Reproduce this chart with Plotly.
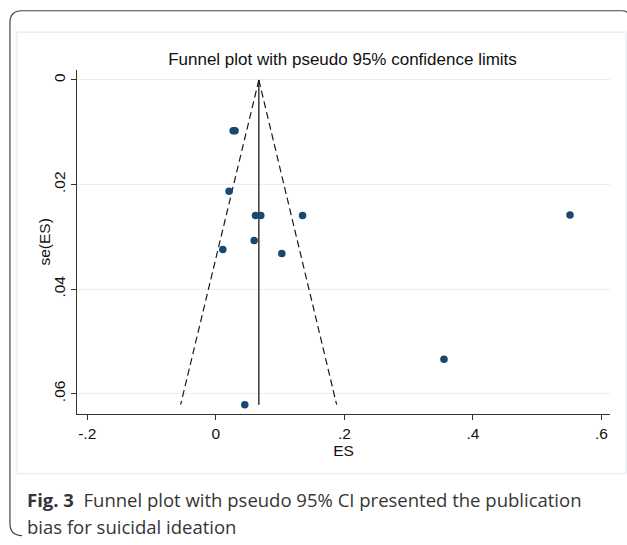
import plotly.graph_objects as go

# ---- data ----
es = [0.027, 0.030, 0.0207, 0.0618, 0.070, 0.135, 0.0597, 0.0109, 0.1027, 0.551, 0.355, 0.0451]
se_es = [0.0097, 0.0097, 0.0213, 0.0259, 0.0259, 0.0259, 0.0307, 0.0324, 0.0332, 0.0258, 0.0534, 0.0621]

pooled_x = [0.067, 0.067]
pooled_se = [0.0, 0.0621]
lower_x = [0.067, -0.0547]
upper_x = [0.067, 0.188]
limit_se = [0.0, 0.0621]

x_tickvals = [-0.2, 0, 0.2, 0.4, 0.6]
x_ticktext = ["-.2", "0", ".2", ".4", ".6"]
y_tickvals = [0, 0.02, 0.04, 0.06]
y_ticktext = ["0", ".02", ".04", ".06"]

W, H = 627, 545
L, R, T, B = 77.3, 610.0, 70.0, 414.3


def px(p):
    return (p - L) / (R - L)


def py(p):
    return 1 - (p - T) / (B - T)


fig = go.Figure()
line_col = "#1a1a1a"
fig.add_trace(go.Scatter(x=lower_x, y=limit_se, mode="lines",
                         line=dict(color=line_col, width=1.2, dash="7px,4px"),
                         hoverinfo="skip", showlegend=False))
fig.add_trace(go.Scatter(x=upper_x, y=limit_se, mode="lines",
                         line=dict(color=line_col, width=1.2, dash="7px,4px"),
                         hoverinfo="skip", showlegend=False))
fig.add_trace(go.Scatter(x=pooled_x, y=pooled_se, mode="lines",
                         line=dict(color=line_col, width=1.3),
                         hoverinfo="skip", showlegend=False))
fig.add_trace(go.Scatter(x=es, y=se_es, mode="markers",
                         marker=dict(color="#1a476f", size=7.5),
                         showlegend=False))

axis_font = dict(family="Liberation Sans, Arial, sans-serif", size=15.5, color="#111111")

fig.update_layout(
    width=W, height=H,
    margin=dict(l=L, r=W - R, t=T, b=H - B, pad=0, autoexpand=False),
    paper_bgcolor="white", plot_bgcolor="white",
    showlegend=False,
    xaxis=dict(range=[(L - 216) / 642.5, (R - 216) / 642.5],
               tickvals=x_tickvals, ticktext=x_ticktext,
               showgrid=False, zeroline=False, automargin=False,
               showline=True, linecolor="#333333", linewidth=1.2,
               ticks="outside", ticklen=5, tickcolor="#333333",
               tickfont=axis_font,
               title=dict(text="ES", font=axis_font, standoff=0)),
    yaxis=dict(range=[(B - 80) / 5233, (T - 80) / 5233],
               tickvals=y_tickvals, ticktext=y_ticktext,
               tickangle=-90, automargin=False,
               showgrid=True, gridcolor="#e8eff1", gridwidth=1,
               zeroline=False,
               showline=True, linecolor="#333333", linewidth=1.2,
               ticks="outside", ticklen=5, tickcolor="#333333",
               tickfont=axis_font),
    title=dict(text="Funnel plot with pseudo 95% confidence limits",
               x=342.5 / W, xref="container", xanchor="center",
               y=1 - 59 / H, yref="container", yanchor="middle",
               font=dict(family="Liberation Sans, Arial, sans-serif", size=17, color="#111111")),
)

# y axis title
fig.add_annotation(text="se(ES)", textangle=-90, xref="paper", yref="paper",
                   x=px(45), y=py(242), xanchor="center", yanchor="middle",
                   showarrow=False, font=axis_font)

# inner graph region border (light)
fig.add_shape(type="rect", xref="paper", yref="paper",
              x0=px(17.3), x1=px(626), y0=py(474), y1=py(32),
              line=dict(color="#e3ecee", width=1.2), fillcolor="rgba(0,0,0,0)", layer="below")

# outer rounded frame
r = 12
x0, y0, x1, y1 = 10.3, 10.7, 640, 536
path = (f"M {px(x0)},{py(y0 + r)} L {px(x0)},{py(y1 - r)} "
        f"Q {px(x0)},{py(y1)} {px(x0 + r)},{py(y1)} "
        f"M {px(x0)},{py(y0 + r)} Q {px(x0)},{py(y0)} {px(x0 + r)},{py(y0)} "
        f"L {px(622)},{py(y0)} Q {px(627)},{py(y0)} {px(628)},{py(y0 + 3)}")
fig.add_shape(type="path", xref="paper", yref="paper", path=path,
              line=dict(color="#444444", width=1.2))

cap_font = dict(family="Open Sans, Noto Sans, sans-serif", size=18.5, color="#363636")
fig.add_annotation(text="<b>Fig. 3</b>  Funnel plot with pseudo 95% CI presented the publication",
                   xref="paper", yref="paper", x=px(25), y=py(500),
                   xanchor="left", yanchor="middle", showarrow=False, font=cap_font)
fig.add_annotation(text="bias for suicidal ideation",
                   xref="paper", yref="paper", x=px(25), y=py(527),
                   xanchor="left", yanchor="middle", showarrow=False, font=cap_font)

fig.write_html("out.html", config={"displayModeBar": False},
               post_script="document.body.style.margin='0';document.body.style.overflow='hidden';")
